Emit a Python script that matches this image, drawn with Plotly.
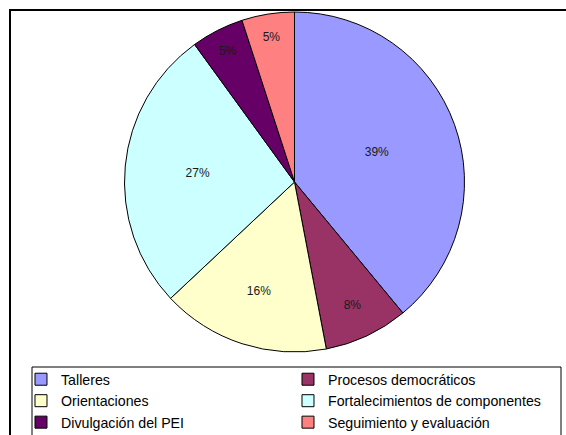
import plotly.graph_objects as go

categories = ["Talleres", "Procesos democráticos", "Orientaciones",
              "Fortalecimientos de componentes", "Divulgación del PEI",
              "Seguimiento y evaluación"]
values = [39, 8, 16, 27, 5, 5]
colors = ["#9999FF", "#993366", "#FFFFCC", "#CCFFFF", "#660066", "#FF8080"]

W, H = 566, 435

fig = go.Figure(go.Pie(
    labels=categories,
    values=values,
    sort=False,
    direction="clockwise",
    rotation=0,
    marker=dict(colors=colors, line=dict(color="black", width=1)),
    textinfo="percent",
    textposition="inside",
    insidetextorientation="horizontal",
    insidetextfont=dict(family="Liberation Sans, Arial", size=12, color="#1a1a1a"),
    domain=dict(x=[123 / W, 466 / W], y=[83 / H, 423 / H]),
    hoverinfo="label+percent",
))

fig.update_layout(
    width=W, height=H,
    margin=dict(l=0, r=0, t=0, b=0, autoexpand=False),
    paper_bgcolor="white",
    plot_bgcolor="white",
    font=dict(family="Liberation Sans, Arial", color="black"),
    showlegend=True,
    legend=dict(
        orientation="h",
        x=0.0371, xanchor="left",
        y=1 - 363.5 / H, yanchor="top",
        entrywidth=222, entrywidthmode="pixels",
        font=dict(size=14.2, color="black"),
        bgcolor="rgba(0,0,0,0)",
        traceorder="normal",
        itemclick=False, itemdoubleclick=False,
    ),
    shapes=[
        dict(type="rect", xref="paper", yref="paper",
             x0=10 / W, x1=1.05, y0=-0.05, y1=1 - 10 / H,
             line=dict(color="black", width=2), fillcolor="rgba(0,0,0,0)"),
        dict(type="rect", xref="paper", yref="paper",
             x0=32 / W, x1=561 / W, y0=-0.05, y1=1 - 367 / H,
             line=dict(color="black", width=1), fillcolor="rgba(0,0,0,0)"),
    ],
)

fig.write_html("out.html",
               config={"displayModeBar": False},
               post_script="document.body.style.margin='0px';document.body.style.overflow='hidden';")
